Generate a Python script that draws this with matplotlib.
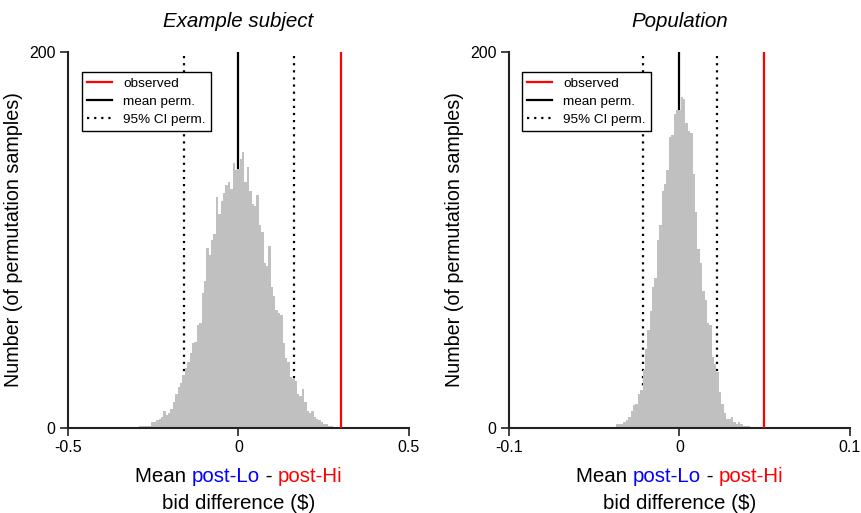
import matplotlib
matplotlib.use("Agg")
import matplotlib.pyplot as plt
import numpy as np
from matplotlib.offsetbox import TextArea, HPacker, AnnotationBbox

plt.rcParams['font.family'] = ['Liberation Sans', 'DejaVu Sans']
plt.rcParams['axes.unicode_minus'] = False

# ---------------- data ----------------
titles = ["Example subject", "Population"]

# Example subject: permutation histogram
subj_bin_start = -0.2905
subj_bin_width = 0.007
subj_counts = [1, 1, 1, 1, 1, 3, 3, 4, 5, 6, 9, 7, 8, 10, 14, 18, 22, 24, 28, 32,
               35, 40, 45, 46, 55, 56, 72, 78, 96, 92, 100, 103, 123, 114, 121, 125,
               129, 131, 127, 141, 137, 138, 143, 147, 131, 139, 126, 119, 118, 124,
               108, 104, 88, 86, 97, 75, 70, 63, 61, 60, 45, 37, 35, 27, 26, 25,
               18, 17, 21, 14, 9, 8, 9, 6, 5, 4, 3, 2, 2, 1, 1]
subj_observed = 0.302
subj_mean_perm = 0.0
subj_ci = [-0.161, 0.162]
subj_xlim = [-0.5, 0.5]
subj_xticks = [-0.5, 0, 0.5]
subj_xticklabels = ["-0.5", "0", "0.5"]

# Population: permutation histogram
pop_bin_start = -0.0371
pop_bin_width = 0.0014
pop_counts = [2, 2, 2, 3, 4, 6, 9, 12, 13, 18, 20, 31, 42, 52, 62, 75, 80, 100,
              108, 126, 130, 137, 155, 156, 167, 169, 169, 176, 175, 162, 158, 157,
              135, 115, 95, 88, 73, 68, 56, 55, 38, 34, 30, 19, 13, 8, 5, 5, 6, 3,
              2, 3, 2, 1, 1, 1]
pop_observed = 0.0495
pop_mean_perm = 0.0
pop_ci = [-0.0215, 0.0219]
pop_xlim = [-0.1, 0.1]
pop_xticks = [-0.1, 0, 0.1]
pop_xticklabels = ["-0.1", "0", "0.1"]

ylim = [0, 200]
yticks = [0, 200]
ylabel = "Number (of permutation samples)"
legend_labels = ["observed", "mean perm.", "95% CI perm."]
xlabel_parts = [("Mean ", "black"), ("post-Lo", "#0000ff"), (" - ", "black"), ("post-Hi", "#ff0000")]
xlabel_line2 = "bid difference ($)"

# ---------------- figure ----------------
W, H = 862, 513
fig = plt.figure(figsize=(W / 100, H / 100), dpi=100)

panels = [
    dict(counts=subj_counts, start=subj_bin_start, width=subj_bin_width,
         obs=subj_observed, mean=subj_mean_perm, ci=subj_ci, xlim=subj_xlim,
         xticks=subj_xticks, xticklabels=subj_xticklabels, left_px=68, leg_x=0.041),
    dict(counts=pop_counts, start=pop_bin_start, width=pop_bin_width,
         obs=pop_observed, mean=pop_mean_perm, ci=pop_ci, xlim=pop_xlim,
         xticks=pop_xticks, xticklabels=pop_xticklabels, left_px=509, leg_x=0.038),
]

spine_col = "#222222"
for k, p in enumerate(panels):
    ax = fig.add_axes([p["left_px"] / W, (H - 428) / H, 341 / W, 376 / H])
    counts = np.array(p["counts"], dtype=float)
    edges = p["start"] + p["width"] * np.arange(len(counts) + 1)

    l_mean = ax.axvline(p["mean"], color="black", lw=1.6, zorder=1)
    l_ci = None
    for c in p["ci"]:
        l_ci = ax.axvline(c, color="black", lw=1.6, ls=(0, (1, 2.2)), zorder=1)
    ax.stairs(counts, edges, fill=True, color="#c0c0c0", zorder=2)
    l_obs = ax.axvline(p["obs"], color="#ff0000", lw=1.6, zorder=3)

    ax.set_xlim(p["xlim"])
    ax.set_ylim(ylim)
    ax.set_xticks(p["xticks"])
    ax.set_xticklabels(p["xticklabels"])
    ax.set_yticks(yticks)
    ax.tick_params(axis="both", direction="out", length=5.5, width=1.2,
                   labelsize=11.5, color=spine_col, pad=3.5)
    for s in ["top", "right"]:
        ax.spines[s].set_visible(False)
    for s in ["left", "bottom"]:
        ax.spines[s].set_linewidth(1.5)
        ax.spines[s].set_color(spine_col)

    ax.set_title(titles[k], fontsize=14.8, style="italic", pad=18)
    ax.set_ylabel(ylabel, fontsize=14.2, labelpad=4)

    leg = ax.legend([l_obs, l_mean, l_ci], legend_labels, loc="upper left",
                    bbox_to_anchor=(p["leg_x"], 0.947), borderaxespad=0,
                    fontsize=9.7, frameon=True, fancybox=False,
                    edgecolor="black", framealpha=1, handlelength=1.85,
                    handletextpad=0.8, borderpad=0.4, labelspacing=0.42)
    leg.get_frame().set_linewidth(1.0)

    # multi-coloured xlabel
    areas = [TextArea(t, textprops=dict(color=c, fontsize=14.8)) for t, c in xlabel_parts]
    pack = HPacker(children=areas, align="baseline", pad=0, sep=0)
    ab = AnnotationBbox(pack, (0.5, -0.13), xycoords="axes fraction",
                        frameon=False, box_alignment=(0.5, 0.5))
    ax.add_artist(ab)
    ax.text(0.5, -0.2, xlabel_line2, transform=ax.transAxes, ha="center",
            va="center", fontsize=14.8)

fig.savefig("out.png", dpi=100)
